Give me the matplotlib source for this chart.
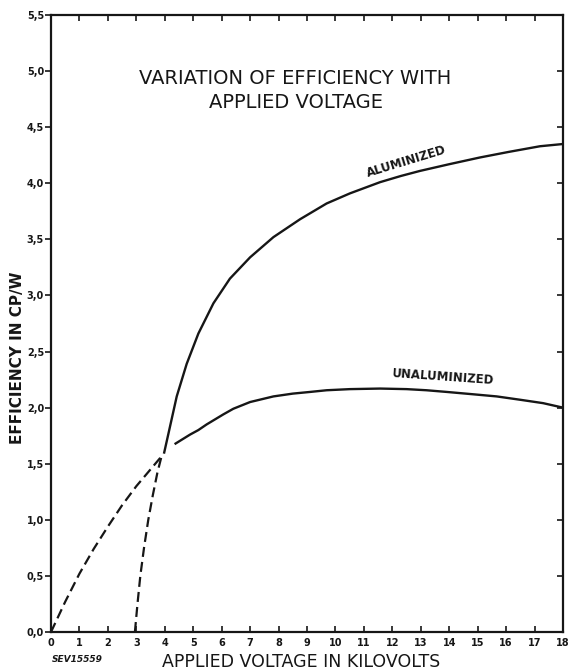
import numpy as np
import matplotlib
matplotlib.use("Agg")
import matplotlib.pyplot as plt

# values (kV, cp/W)
alu_dash_x = [2.95, 3.04, 3.14, 3.27, 3.42, 3.58, 3.74, 3.9]
alu_dash_y = [0.0, 0.25, 0.5, 0.75, 1.0, 1.22, 1.42, 1.58]
alu_x = [3.98, 4.13, 4.42, 4.77, 5.18, 5.71, 6.29, 7.0, 7.82, 8.76, 9.69, 10.51,
         11.57, 12.3, 12.97, 14.0, 15.08, 16.1, 17.19, 18.0]
alu_y = [1.6, 1.77, 2.1, 2.39, 2.66, 2.93, 3.15, 3.34, 3.52, 3.68, 3.82, 3.91,
         4.01, 4.065, 4.11, 4.17, 4.23, 4.28, 4.33, 4.35]

unalu_dash_x = [0.0, 0.5, 1.0, 1.5, 2.0, 2.5, 3.0, 3.5, 3.9]
unalu_dash_y = [0.0, 0.27, 0.52, 0.74, 0.94, 1.13, 1.3, 1.45, 1.57]
unalu_x = [4.38, 4.89, 5.18, 5.47, 6.06, 6.41, 7.0, 7.82, 8.5, 9.11, 9.69, 10.51,
           11.57, 12.5, 13.2, 13.91, 14.8, 15.67, 16.5, 17.3, 18.0]
unalu_y = [1.68, 1.76, 1.80, 1.85, 1.94, 1.99, 2.05, 2.10, 2.125, 2.14, 2.155, 2.165,
           2.17, 2.165, 2.155, 2.14, 2.12, 2.10, 2.07, 2.04, 2.0]

x_ticks = list(range(0, 19))
y_ticks = [0, 0.5, 1, 1.5, 2, 2.5, 3, 3.5, 4, 4.5, 5, 5.5]
y_tick_labels = ["0,0", "0,5", "1,0", "1,5", "2,0", "2,5", "3,0", "3,5", "4,0", "4,5", "5,0", "5,5"]

ink = "#161616"

fig = plt.figure(figsize=(5.69, 6.71), dpi=100)
ax = fig.add_axes([51 / 569, 39 / 671, 512 / 569, 617 / 671])

dash = (0, (4.5, 2.3))
ax.plot(alu_dash_x, alu_dash_y, color=ink, lw=1.6, linestyle=dash)
ax.plot(alu_x, alu_y, color=ink, lw=1.7)
ax.plot(unalu_dash_x, unalu_dash_y, color=ink, lw=1.6, linestyle=dash)
ax.plot(unalu_x, unalu_y, color=ink, lw=1.7)

ax.set_xlim(0, 18)
ax.set_ylim(0, 5.5)

for s in ax.spines.values():
    s.set_linewidth(1.6)
    s.set_color(ink)

ax.set_xticks(x_ticks)
ax.set_xticklabels([str(v) for v in x_ticks], fontsize=7, fontweight="bold", color=ink)
ax.set_yticks(y_ticks)
ax.set_yticklabels(y_tick_labels, fontsize=7, fontweight="bold", color=ink)
ax.tick_params(axis="x", direction="in", top=True, length=4, width=1.2, pad=4, colors=ink)
ax.tick_params(axis="y", direction="out", length=4, width=1.2, pad=1, colors=ink)
# right side ticks point inward
ax2 = ax.secondary_yaxis("right")
ax2.set_yticks(y_ticks)
ax2.set_yticklabels([])
ax2.tick_params(direction="in", length=4, width=1.2, colors=ink)
ax2.spines["right"].set_visible(False)

ax.text(8.6, 4.93, "VARIATION OF EFFICIENCY WITH", ha="center", va="center",
        fontsize=14, color=ink)
ax.text(8.6, 4.72, "APPLIED VOLTAGE", ha="center", va="center",
        fontsize=14, color=ink)

ax.text(12.5, 4.19, "ALUMINIZED", ha="center", va="center", rotation=17,
        fontsize=8.5, fontweight="bold", color=ink, rotation_mode="anchor")
ax.text(13.8, 2.27, "UNALUMINIZED", ha="center", va="center", rotation=-4,
        fontsize=8.5, fontweight="bold", color=ink, rotation_mode="anchor")

fig.text(18 / 569, 1 - 358 / 671, "EFFICIENCY IN CP/W", rotation=90, ha="center",
         va="center", fontsize=11, fontweight="bold", color=ink)
fig.text(301 / 569, 1 - 662 / 671, "APPLIED VOLTAGE IN KILOVOLTS", ha="center",
         va="center", fontsize=12.5, color=ink)
fig.text(52 / 569, 1 - 659 / 671, "SEV15559", ha="left", va="center",
         fontsize=6.5, fontstyle="italic", fontweight="bold", color=ink)

fig.savefig("out.png", dpi=100, facecolor="white")
